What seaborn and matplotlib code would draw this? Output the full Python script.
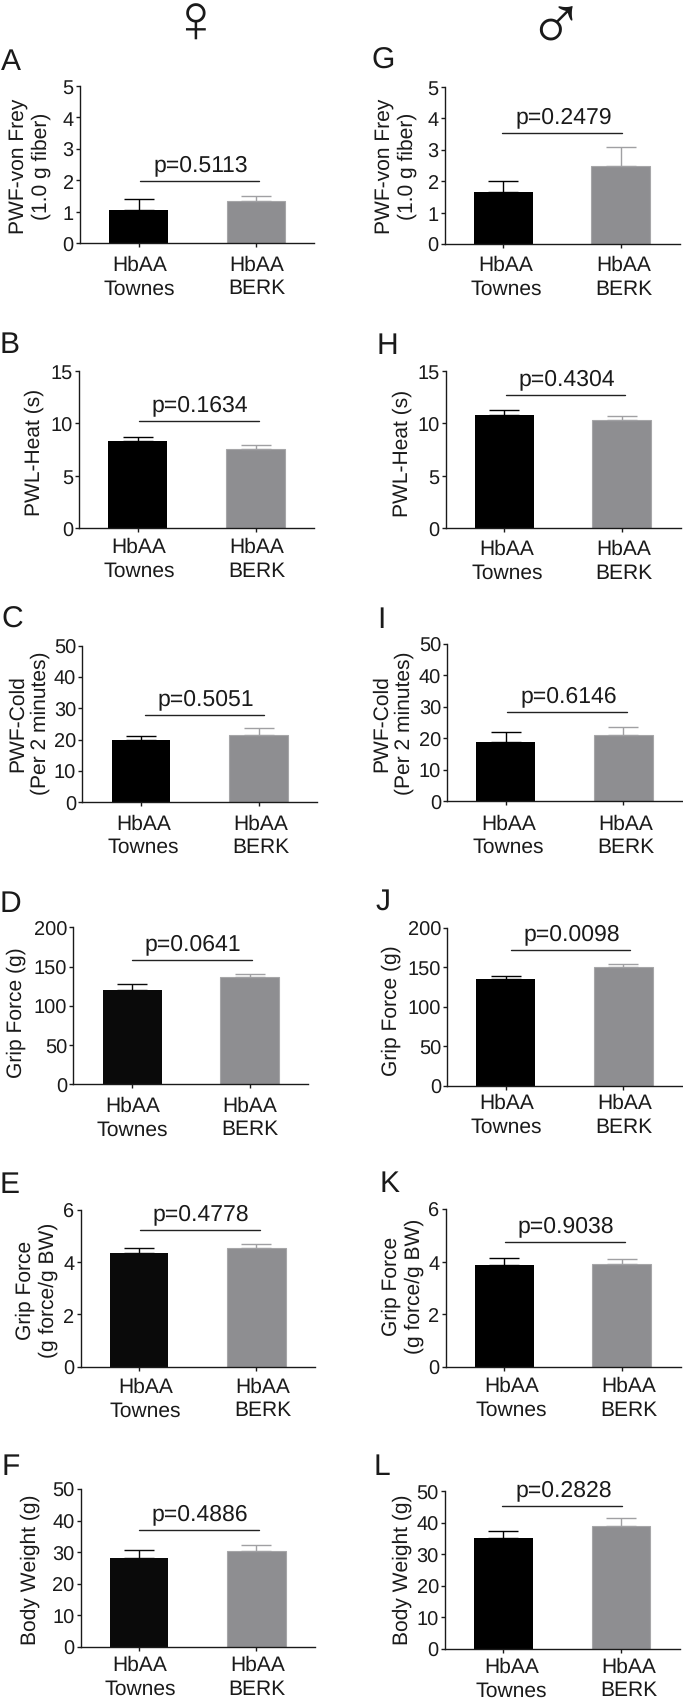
import seaborn as sns
import matplotlib.pyplot as plt
import pandas as pd
from matplotlib.transforms import ScaledTranslation

# values
panels = ['A', 'B', 'C', 'D', 'E', 'F', 'G', 'H', 'I', 'J', 'K', 'L']
groups = ['HbAA\nTownes', 'HbAA\nBERK']
townes = [1.07, 8.28, 19.8, 120.6, 4.34, 28.0, 1.66, 10.78, 18.75, 135.3, 3.86, 35.3]
berk = [1.33, 7.58, 21.4, 136.3, 4.52, 30.3, 2.49, 10.27, 21.0, 151.0, 3.91, 39.1]
townes_top = [1.41, 8.72, 21.1, 127.8, 4.52, 30.65, 2.01, 11.29, 22.1, 139.5, 4.12, 37.5]
berk_top = [1.49, 7.9, 23.6, 140.0, 4.68, 32.2, 3.07, 10.72, 23.5, 154.0, 4.11, 41.5]
p_values = ['p=0.5113', 'p=0.1634', 'p=0.5051', 'p=0.0641', 'p=0.4778', 'p=0.4886',
            'p=0.2479', 'p=0.4304', 'p=0.6146', 'p=0.0098', 'p=0.9038', 'p=0.2828']
p_line = [1.97, 10.24, 27.9, 158.7, 5.24, 37.0, 3.53, 12.72, 28.3, 171.7, 4.73, 45.3]
y_max = [5, 15, 50, 200, 6, 50, 5, 15, 50, 200, 6, 50]
y_step = [1, 5, 10, 50, 2, 10, 1, 5, 10, 50, 2, 10]
y_labels = ['PWF-von Frey\n(1.0 g fiber)', 'PWL-Heat (s)', 'PWF-Cold\n(Per 2 minutes)',
            'Grip Force (g)', 'Grip Force\n(g force/g BW)', 'Body Weight (g)',
            'PWF-von Frey\n(1.0 g fiber)', 'PWL-Heat (s)', 'PWF-Cold\n(Per 2 minutes)',
            'Grip Force (g)', 'Grip Force\n(g force/g BW)', 'Body Weight (g)']

# layout in reference pixels
W, H = 683, 1699
ax_left = [80, 79.3, 82.3, 73.3, 80.7, 80.7, 445, 445.7, 447.3, 447.3, 445.7, 445]
ax_right = [314, 314, 317.3, 308.3, 315, 315, 680, 680.7, 682.3, 682.3, 680.7, 680]
ax_top = [87, 371.7, 646.7, 928.3, 1210.7, 1490, 87.7, 371.7, 645, 929, 1210, 1492.3]
ax_bottom = [244.3, 529.3, 803.3, 1085.3, 1367.7, 1647.7, 245, 529.3, 802.3, 1086.7, 1367.7, 1650]
bar1_x = [138.5, 137.7, 141, 132.3, 139, 139, 503.3, 504.3, 505.7, 505.7, 504.3, 503.3]
bar2_x = [256, 255.7, 258.7, 249.7, 256.3, 256.3, 620.7, 621.7, 623.3, 623.3, 621.7, 621]
line_x0 = [139.7, 138.7, 144.7, 132, 140, 139, 502.3, 505.7, 507.3, 510.7, 505, 502.3]
line_x1 = [259.3, 258.7, 264.3, 251.7, 259.7, 258.7, 622.3, 625.3, 627, 630.3, 624.7, 622]
letter_x = [1, 0, 1, 0, 0, 2, 371, 376.7, 377, 376, 380, 373.3]
letter_y = [70, 352.7, 628, 912, 1193.3, 1475, 69, 354, 627.7, 910, 1191.7, 1475]
label_x = [29.5, 34.7, 29, 16.3, 36.7, 30.7, 395.6, 402, 393.3, 391, 402.5, 402]
label_y = [166, 452.8, 723.3, 1012.7, 1290, 1569.3, 166.7, 453.3, 723.7, 1010.3, 1286, 1569.3]
tick_pad = [5, 3.3, 4.8, 5, 4, 3, 4.8, 4.5, 5.5, 2.3, 3.3, 2.3]
tick_shift = [1, 1.5, 2.5, 0.3, 6.5, 1, 2.7, 2.5, 2.7, 1, 7, 8]

GREY = '#8e8e91'
DARK = '#1a1a1a'

sns.set_theme(style='ticks')
plt.rcParams['font.family'] = ['Liberation Sans', 'DejaVu Sans']
plt.rcParams['text.color'] = DARK
plt.rcParams['text.hinting'] = 'none'
plt.rcParams['text.hinting_factor'] = 1

fig = plt.figure(figsize=(W / 100, H / 100), dpi=100)

for i, name in enumerate(panels):
    ax = fig.add_axes([ax_left[i] / W, 1 - ax_bottom[i] / H,
                       (ax_right[i] - ax_left[i]) / W, (ax_bottom[i] - ax_top[i]) / H])
    df = pd.DataFrame({'group': groups, 'value': [townes[i], berk[i]]})
    black = '#0a0a0a' if name in 'DEF' else '#000000'
    sns.barplot(data=df, x='group', y='value', hue='group', palette=[black, GREY],
                width=0.5, legend=False, ax=ax, linewidth=0)
    ax.patches[1].set_edgecolor('#a6a6a8')
    ax.patches[1].set_linewidth(0.8)

    ax.errorbar([0], [townes[i]], yerr=[[0], [townes_top[i] - townes[i]]], color=black,
                elinewidth=1, capsize=10.5, capthick=1, zorder=1)
    ax.errorbar([1], [berk[i]], yerr=[[0], [berk_top[i] - berk[i]]], color='#a0a0a3',
                elinewidth=1, capsize=10.5, capthick=1, zorder=1)

    span = bar2_x[i] - bar1_x[i]
    ax.set_xlim((ax_left[i] - bar1_x[i]) / span, (ax_right[i] - bar1_x[i]) / span)
    ax.set_ylim(0, y_max[i])
    ax.set_yticks(range(0, y_max[i] + 1, y_step[i]))
    ax.set_xlabel('')
    ax.set_ylabel('')
    ax.tick_params(axis='y', length=3, width=1, pad=1.5, labelsize=14.5, color=DARK, labelcolor=DARK)
    ax.tick_params(axis='x', length=3, width=1, pad=tick_pad[i], labelsize=14.8, color=DARK, labelcolor=DARK)
    # the group labels sit a little right of their ticks in some panels
    shift = ScaledTranslation(tick_shift[i] / 100, 0, fig.dpi_scale_trans)
    for lab in ax.get_xticklabels():
        lab.set_linespacing(1.28)
        lab.set_transform(lab.get_transform() + shift)
    sns.despine(ax=ax)
    ax.spines['left'].set_linewidth(1)
    ax.spines['bottom'].set_linewidth(1)
    ax.spines['left'].set_color(DARK)
    ax.spines['bottom'].set_color(DARK)

    # significance line and p value
    x0 = (line_x0[i] - bar1_x[i]) / span
    x1 = (line_x1[i] - bar1_x[i]) / span
    ax.plot([x0, x1], [p_line[i], p_line[i]], color='#222222', linewidth=1, clip_on=False)
    ax.annotate(p_values[i], xy=((x0 + x1) / 2, p_line[i]), xytext=(1, 7.7), textcoords='offset points',
                ha='center', va='baseline', fontsize=16.3, annotation_clip=False)

    fig.text(label_x[i] / W, 1 - label_y[i] / H, y_labels[i], rotation=90, ha='center', va='center',
             fontsize=14.8, linespacing=1.2)
    fig.text(letter_x[i] / W, 1 - letter_y[i] / H, name, ha='left', va='baseline', fontsize=21.5)

fig.text(195 / W, 1 - 25 / H, '\u2640', ha='center', va='center', fontsize=50)
fig.text(555 / W, 1 - 30 / H, '\u2642', ha='center', va='center', fontsize=56)

fig.savefig('out.png', dpi=100)
